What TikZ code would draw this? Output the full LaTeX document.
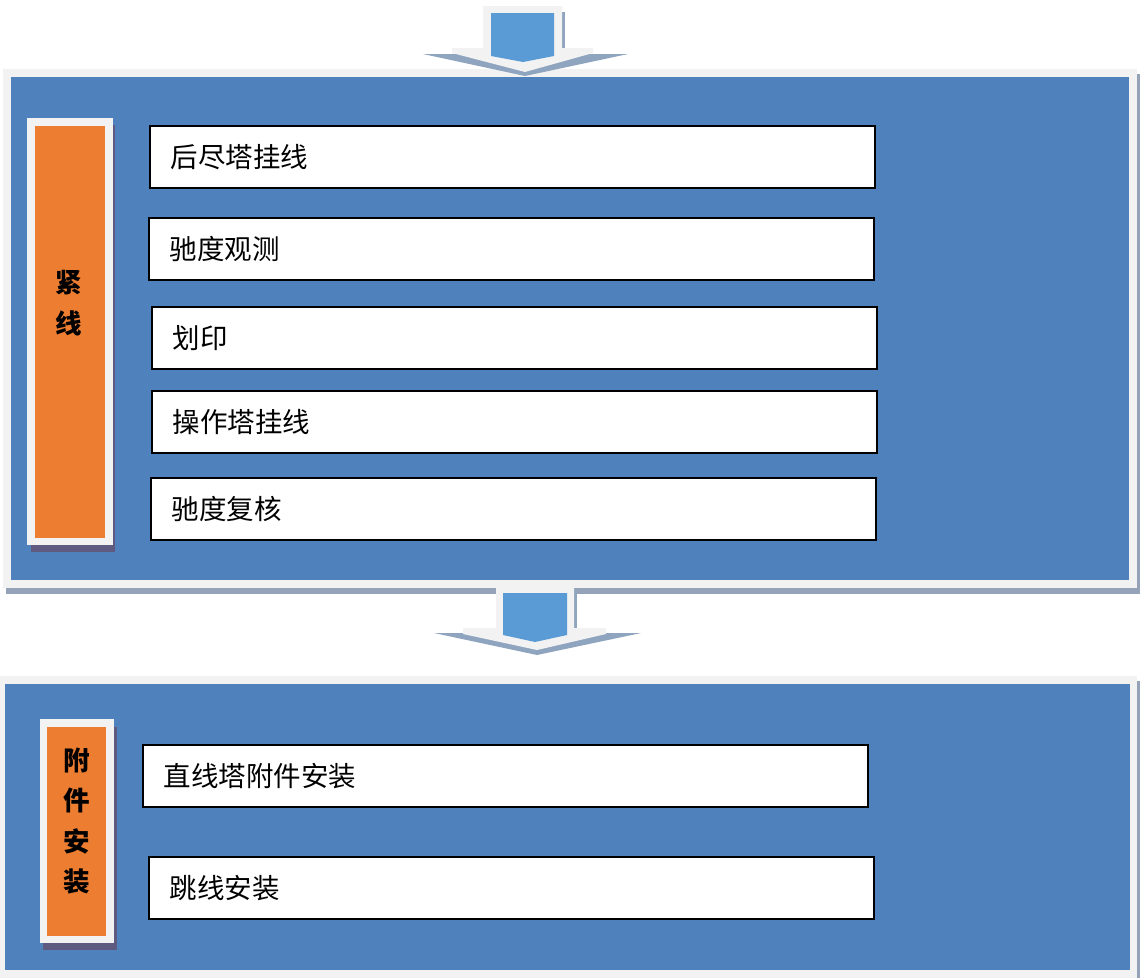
\documentclass[tikz,border=0pt]{standalone}
\usepackage{fontspec}
\newfontfamily\cjk{Noto Sans CJK SC}
\definecolor{panelblue}{HTML}{4F81BD}
\definecolor{lightgray}{HTML}{F2F2F2}
\definecolor{panelshadow}{HTML}{95A3B8}
\definecolor{orangefill}{HTML}{ED7D31}
\definecolor{orangeshadow}{HTML}{5E5A80}
\definecolor{arrowblue}{HTML}{5B9BD5}
\definecolor{arrowshadow}{HTML}{8EA4BF}
\tikzset{
  wbox/.style={draw=black, line width=1.8pt, fill=white, anchor=north west,
    minimum height=62pt, text width=683pt, inner xsep=21pt, inner ysep=0pt,
    align=left, font=\cjk\fontsize{27.5pt}{31pt}\selectfont, text=black},
  vlabel/.style={align=center, inner sep=0pt,
    font=\cjk\bfseries\fontsize{26.5pt}{40.5pt}\selectfont, text=black},
}
\begin{document}
\begin{tikzpicture}[x=1pt,y=-1pt]
\fill[white] (0,0) rectangle (1140,978);
\useasboundingbox (0,0) rectangle (1140,978);

% ---- top panel ----
\fill[panelshadow] (6,74) rectangle (1140,594);
\fill[lightgray] (3,69) rectangle (1137,588);
\fill[panelblue] (11,77) rectangle (1129,580);
% orange label box
\fill[orangeshadow] (31,125) rectangle (115,552);
\fill[lightgray] (27,118) rectangle (113,545);
\fill[orangefill] (35,126) rectangle (105,538);
\node[vlabel] (lbl1) at (69,303) {紧\\线};

% ---- top arrow ----
\fill[arrowshadow] (423,54) -- (628,54) -- (525,76) -- cycle;
\fill[arrowshadow] (562,12) rectangle (565,50);
\fill[lightgray] (483,6) -- (562,6) -- (562,48) -- (593,48) -- (593,53)
  -- (525,72) -- (452,53) -- (452,48) -- (483,48) -- cycle;
\fill[arrowblue] (491,13) -- (554,13) -- (554,56) -- (523,62) -- (491,56) -- cycle;

% ---- boxes top panel ----
\node[wbox] (b1) at (149,125) {后尽塔挂线};
\node[wbox] (b2) at (148,217) {驰度观测};
\node[wbox] (b3) at (151,306) {划印};
\node[wbox] (b4) at (151,390) {操作塔挂线};
\node[wbox] (b5) at (150,477) {驰度复核};

% ---- bottom panel ----
\fill[panelshadow] (3,681) rectangle (1140,978);
\fill[lightgray] (0,676) rectangle (1137,978);
\fill[panelblue] (5,684) rectangle (1130,970);
\fill[orangeshadow] (43,727) rectangle (117,950);
\fill[lightgray] (40,719) rectangle (114,943);
\fill[orangefill] (47,727) rectangle (106,936);
\node[vlabel] (lbl2) at (77,821) {附\\件\\安\\装};

% ---- middle arrow ----
\fill[arrowshadow] (434,633) -- (641,633) -- (537,655) -- cycle;
\fill[arrowshadow] (574,590) rectangle (577,630);
\fill[lightgray] (496,586) -- (574,586) -- (574,628) -- (606,628) -- (606,634)
  -- (537,650) -- (463,634) -- (463,628) -- (496,628) -- cycle;
\fill[arrowblue] (503,593) -- (567,593) -- (567,635) -- (535,642) -- (503,635) -- cycle;

\node[wbox] (b6) at (142,744) {直线塔附件安装};
\node[wbox] (b7) at (148,856) {跳线安装};
\end{tikzpicture}
\end{document}
